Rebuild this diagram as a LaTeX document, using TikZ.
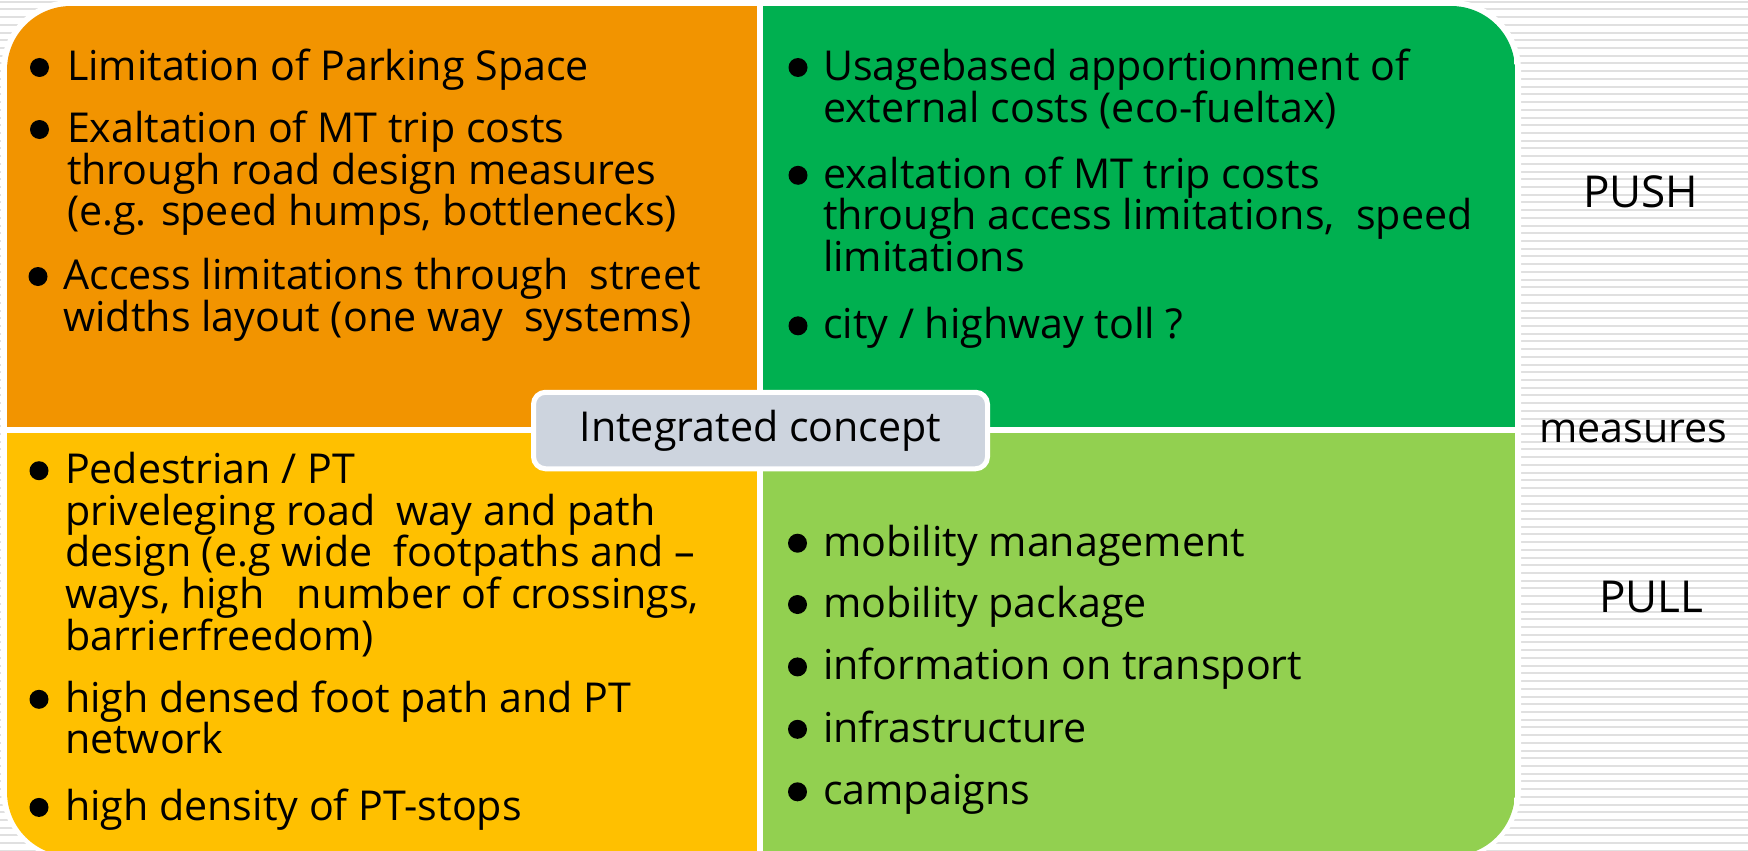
\documentclass[tikz,border=0pt]{standalone}
\usepackage{fontspec}
\setmainfont{Open Sans}
\definecolor{pushorange}{HTML}{F29400}
\definecolor{pushgreen}{HTML}{00B050}
\definecolor{pullyellow}{HTML}{FFC000}
\definecolor{pullgreen}{HTML}{92D050}
\definecolor{conceptgrey}{HTML}{CDD4DE}
\definecolor{stripegrey}{HTML}{E0E0E0}
\newcommand\bodyfont{\fontsize{41.2}{41.6}\selectfont}
\newcommand\capsfont{\fontsize{44}{44}\selectfont}

\begin{document}
% multi-line items are anchored at the baseline of their last line
\begin{tikzpicture}[x=1pt,y=-1pt,
  txt/.style={anchor=base west,inner sep=0pt,outer sep=0pt,align=left,font=\bodyfont},
  bulletdot/.style={circle,fill=black,inner sep=0pt,minimum size=19},
  sidelabel/.style={anchor=base west,inner sep=0pt,font=\bodyfont},
  concept/.style={rounded corners=12,fill=conceptgrey,draw=white,line width=5,
    minimum width=454,minimum height=76.5,inner sep=0pt,font=\bodyfont}]
\useasboundingbox (0,0) rectangle (1748,851);

% striped backdrop
\fill[white] (0,0) rectangle (1748,851);
\foreach \k in {0,...,110}
  \draw[stripegrey,line width=2] (0,{1.7+7.72*\k}) -- (1748,{1.7+7.72*\k});

% white frame and the four quadrants
\fill[white,rounded corners=70] (1,0) rectangle (1521,860);
\begin{scope}
  \clip[rounded corners=64] (7,6) rectangle (1515,856);
  \fill[pushorange] (7,6) rectangle (757,426.5);
  \fill[pushgreen] (763,6) rectangle (1515,426.5);
  \fill[pullyellow] (7,432.5) rectangle (757,856);
  \fill[pullgreen] (763,432.5) rectangle (1515,856);
\end{scope}

% push measures, street design
\node[bulletdot] (o1b) at (39.5,67.5) {};
\node[txt] (o1) at (67,80.5) {Limitation of Parking Space};
\node[bulletdot] (o2b) at (39.5,129.5) {};
\node[txt] (o2) at (67,225.7) {Exaltation of MT trip costs\\through road design measures\\(e.g. speed humps, bottlenecks)};
\node[bulletdot] (o3b) at (38,276.5) {};
\node[txt] (o3) at (63.5,331.1) {Access limitations through\ \ street\\widths layout (one way\ \ systems)};

% push measures, pricing
\node[bulletdot] (g1b) at (798,67.5) {};
\node[txt] (g1) at (823,122.1) {Usagebased apportionment of\\external costs (eco-fueltax)};
\node[bulletdot] (g2b) at (798,175.3) {};
\node[txt] (g2) at (823,271.5) {exaltation of MT trip costs\\through access limitations,\ \ speed\\limitations};
\node[bulletdot] (g3b) at (798,325.8) {};
\node[txt] (g3) at (823,338.8) {city / highway toll ?};

% pull measures, walking and public transport
\node[bulletdot] (y1b) at (39,470.7) {};
\node[txt] (y1) at (65,650.1) {Pedestrian / PT\\priveleging road\ \ way and path\\design (e.g wide\ \ footpaths and –\\ways, high\ \ \ number of crossings,\\barrierfreedom)};
\node[bulletdot] (y2b) at (39,699.3) {};
\node[txt] (y2) at (65,753.9) {high densed foot path and PT\\network};
\node[bulletdot] (y3b) at (39,807.4) {};
\node[txt] (y3) at (65,820.4) {high density of PT-stops};

% pull measures, mobility services
\node[bulletdot] (l1b) at (797.5,543.2) {};
\node[txt] (l1) at (823,556.2) {mobility management};
\node[bulletdot] (l2b) at (797.5,604.5) {};
\node[txt] (l2) at (823,617.5) {mobility package};
\node[bulletdot] (l3b) at (797.5,666.9) {};
\node[txt] (l3) at (823,679.9) {information on transport};
\node[bulletdot] (l4b) at (797.5,729.3) {};
\node[txt] (l4) at (823,742.3) {infrastructure};
\node[bulletdot] (l5b) at (797.5,791.8) {};
\node[txt] (l5) at (823,804.8) {campaigns};

% centre label
\node[concept] (core) at (760.5,430.5) {Integrated concept};

% side labels
\node[sidelabel,font=\capsfont] (push) at (1583,207.5) {PUSH};
\node[sidelabel] (meas) at (1539,442) {measures};
\node[sidelabel,font=\capsfont] (pull) at (1599,612.5) {PULL};
\end{tikzpicture}
\end{document}
